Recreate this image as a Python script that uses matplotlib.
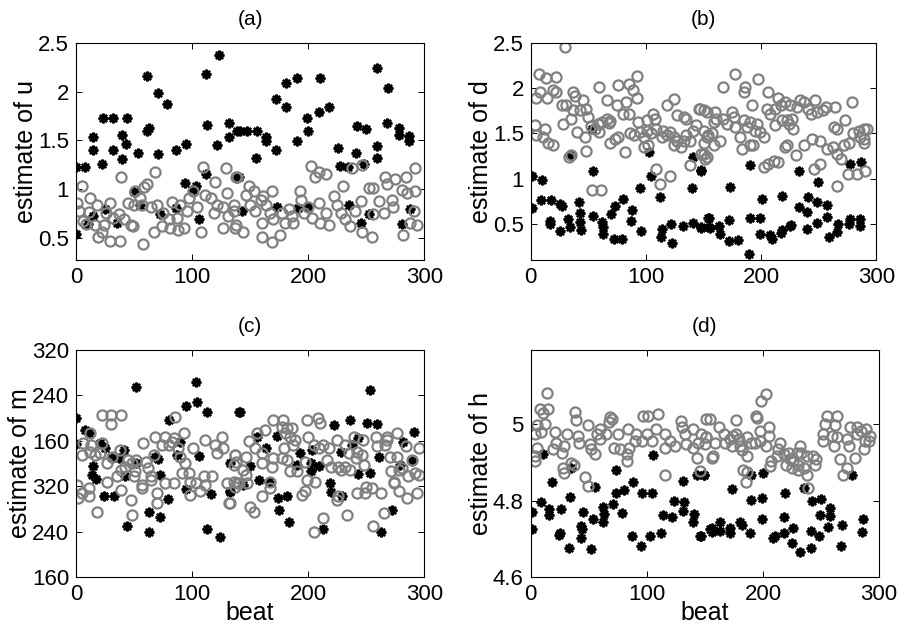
import matplotlib.pyplot as plt
import numpy as np

plt.rcParams['font.family'] = ['Liberation Sans', 'DejaVu Sans']

# ---------------- (a) estimate of u ----------------
a_star_x = [0, 8, 0, 15, 15, 22, 23, 32, 44, 32, 40, 43, 40, 53, 61, 61, 63, 71, 71, 78, 86, 95, 94, 103,
            112, 112, 123, 113, 121, 132, 132, 139, 139, 15, 10, 25, 35, 50, 55, 72, 86, 106, 101,
            141, 147, 156, 155, 164, 164, 172, 172, 181, 181, 190, 190, 199, 200, 209, 210, 218, 226,
            227, 234, 241, 242, 250, 248, 259, 259, 259, 269, 268, 278, 278, 287, 287,
            140, 143, 173, 191, 200, 235, 252, 245, 281, 288]
a_star_y = [1.23, 1.23, 0.54, 1.53, 1.40, 1.26, 1.73, 1.73, 1.73, 1.40, 1.56, 1.46, 1.31, 1.37, 2.16, 1.60,
            1.63, 1.99, 1.36, 1.87, 1.40, 1.46, 1.06, 1.03, 1.15, 2.18, 2.38, 1.66, 1.45, 1.68, 1.53,
            1.60, 1.11, 0.72, 0.64, 0.79, 0.65, 0.97, 0.84, 0.74, 0.80, 0.69, 0.99,
            1.60, 1.60, 1.60, 1.32, 1.53, 1.49, 1.93, 1.40, 2.09, 1.84, 2.14, 1.49, 1.73, 1.60, 1.79,
            2.14, 1.84, 1.42, 1.24, 1.23, 1.37, 1.65, 1.62, 1.26, 2.24, 1.44, 1.32, 2.04, 1.68, 1.63,
            1.56, 1.55, 1.49, 1.12, 0.77, 0.82, 0.80, 0.82, 0.84, 0.74, 0.65, 0.64, 0.79]
a_circ_x = [1, 5, 3, 6, 12, 11, 9, 18, 16, 22, 19, 24, 26, 29, 32, 29, 38, 39, 37, 41, 47, 49, 45, 51, 50,
            57, 59, 61, 58, 55, 65, 68, 67, 70, 74, 75, 80, 83, 81, 87, 90, 88, 93, 96, 97, 101, 104,
            109, 108, 111, 116, 119, 120, 121, 127, 129, 127, 130, 131, 136, 137, 139,
            138, 136, 138, 144, 146, 149, 150, 153, 154, 159, 161, 164, 167, 169, 160, 169, 176, 160,
            170, 177, 180, 183, 186, 187, 193, 194, 196, 200, 203, 202, 206, 209, 215, 209, 210, 215,
            218, 222, 225, 228, 230, 232, 236, 238, 246, 240, 245, 246, 252, 256, 255, 256, 261, 265,
            266, 268, 272, 273, 275, 281, 282, 284, 285, 291, 292, 292, 294, 288]
a_circ_y = [0.86, 1.03, 0.77, 0.67, 0.91, 0.76, 0.64, 0.84, 0.63, 0.56, 0.51, 0.63, 0.75, 0.86, 0.70, 0.47,
            0.47, 1.12, 0.74, 0.69, 0.63, 0.62, 0.86, 0.98, 0.84, 0.84, 1.02, 1.05, 0.43, 0.91, 0.81,
            1.17, 0.56, 0.84, 0.62, 0.75, 0.69, 0.87, 0.60, 0.70, 0.84, 0.58, 0.60, 0.77, 0.91, 0.98,
            0.81, 1.23, 0.56, 0.94, 0.91, 0.75, 1.07, 0.84, 0.81, 1.22, 0.60, 0.96, 0.72, 0.77, 0.60,
            1.12, 1.12, 0.84, 0.63, 0.56, 0.94, 1.03, 0.84, 0.98, 0.77, 0.89, 0.93, 0.84, 0.75, 0.98,
            0.51, 0.46, 0.53, 0.65, 0.69, 0.75, 0.65, 0.79, 0.72, 0.65, 0.98, 0.89, 0.75, 0.81, 0.70,
            1.24, 1.12, 1.17, 1.15, 0.86, 0.65, 0.75, 0.63, 0.93, 0.84, 0.75, 1.03, 0.69, 0.62, 1.22,
            1.25, 0.77, 0.88, 0.56, 1.01, 1.01, 0.51, 0.74, 0.88, 0.75, 1.12, 1.05, 0.89, 0.81, 1.10,
            0.99, 0.53, 1.12, 0.96, 0.77, 1.22, 0.98, 0.63, 0.65]

# ---------------- (b) estimate of d ----------------
b_circ_x = [30, 7, 13, 22, 8, 5, 14, 19, 22, 27, 31, 37, 38, 45, 43, 37, 48, 50, 59, 66, 76, 85, 89, 92, 83,
            75, 80, 85, 92, 28, 35, 4, 12, 5, 11, 15, 19, 40, 47, 33, 35, 48, 52, 58, 62, 66, 56, 59,
            68, 69, 69, 73, 76, 82, 86, 90, 95, 93, 101, 106, 108, 98, 101, 104, 98, 102, 109, 114,
            115, 118, 121, 124, 127, 124, 130, 133, 135, 138, 141, 109, 112, 121, 53, 61, 118, 124,
            127, 133, 135, 143, 146, 150, 148, 151, 138, 153,
            177, 167, 186, 185, 197, 206, 192, 215, 221, 212, 217, 205, 208, 225, 231, 234, 237, 241,
            247, 243, 248, 254, 256, 264, 279, 273, 263, 266, 147, 153, 160, 161, 167, 159, 170, 175,
            176, 177, 185, 188, 190, 196, 195, 199, 202, 212, 218, 222, 227, 228, 224, 150, 154, 157,
            164, 159, 150, 150, 153, 182, 183, 190, 193, 202, 206, 211, 215, 221, 222, 230, 237, 244,
            251, 257, 262, 266, 272, 269, 276, 246, 251, 266, 275, 283, 290, 280, 285, 289, 292, 289,
            289, 286]
b_circ_y = [2.46, 2.16, 2.11, 2.13, 1.96, 1.89, 1.89, 1.98, 1.96, 1.82, 1.82, 1.96, 1.92, 1.87, 1.76, 1.76,
            1.77, 1.68, 2.01, 1.87, 2.04, 2.05, 1.98, 2.14, 1.85, 1.81, 1.72, 1.72, 1.89, 1.61, 1.66,
            1.59, 1.55, 1.48, 1.46, 1.40, 1.37, 1.52, 1.46, 1.24, 1.26, 1.31, 1.58, 1.60, 1.63, 1.66,
            1.55, 1.52, 1.62, 1.64, 1.40, 1.44, 1.46, 1.29, 1.50, 1.48, 1.52, 1.63, 1.65, 1.72, 1.66,
            1.46, 1.53, 1.50, 1.35, 1.37, 1.55, 1.46, 1.53, 1.48, 1.52, 1.46, 1.42, 1.37, 1.35, 1.42,
            1.48, 1.42, 1.53, 1.11, 0.94, 1.03, 0.87, 0.87, 1.82, 1.88, 1.70, 1.68, 1.66, 1.59, 1.77,
            1.76, 1.27, 1.22, 1.15, 1.46,
            2.16, 2.01, 2.01, 1.96, 2.10, 1.96, 1.81, 1.89, 1.85, 1.77, 1.81, 1.77, 1.72, 1.81, 1.79,
            1.87, 1.85, 1.77, 1.87, 1.72, 1.74, 1.76, 1.79, 1.79, 1.85, 1.65, 1.57, 1.55, 1.77, 1.74,
            1.74, 1.66, 1.66, 1.63, 1.61, 1.74, 1.68, 1.57, 1.65, 1.57, 1.63, 1.61, 1.53, 1.52, 1.46,
            1.59, 1.65, 1.65, 1.66, 1.55, 1.61, 1.53, 1.48, 1.50, 1.42, 1.37, 1.39, 1.27, 1.24, 1.46,
            1.33, 1.37, 1.37, 1.13, 1.16, 1.20, 1.18, 1.35, 1.37, 1.26, 1.37, 1.44, 1.42, 1.33, 1.35,
            1.27, 1.37, 1.22, 1.39, 1.11, 1.16, 0.92, 1.05, 1.05, 1.09, 1.50, 1.53, 1.55, 1.55, 1.44,
            1.39, 1.46]
b_star_x = [1, 10, 34, 54, 53, 1, 9, 18, 25, 27, 42, 17, 17, 25, 32, 34, 43, 44, 43, 54, 62, 63, 63, 70, 73,
            80, 88, 87, 72, 79, 96, 95, 104, 112, 103, 122, 114, 113, 123, 132, 141, 148, 155, 141,
            148, 140, 154,
            148, 190, 233, 249, 173, 277, 287, 201, 218, 233, 240, 241, 248, 257, 155, 148, 156, 163,
            164, 172, 180, 172, 190, 199, 189, 199, 208, 209, 217, 218, 225, 226, 240, 248, 257, 259,
            266, 267, 276, 277, 286, 286]
b_star_y = [1.03, 0.99, 1.26, 1.08, 1.55, 0.68, 0.76, 0.76, 0.72, 0.70, 0.74, 0.53, 0.50, 0.42, 0.55, 0.46,
            0.52, 0.43, 0.62, 0.59, 0.52, 0.46, 0.39, 0.61, 0.70, 0.78, 0.65, 0.53, 0.33, 0.33, 0.42,
            0.90, 1.03, 0.80, 1.30, 0.50, 0.44, 0.36, 0.29, 0.48, 0.51, 0.46, 0.46, 1.24, 1.10, 0.90,
            0.57,
            1.09, 1.15, 1.09, 0.96, 0.91, 1.16, 1.18, 0.78, 0.81, 0.69, 0.63, 0.80, 0.74, 0.71, 0.57,
            0.45, 0.45, 0.48, 0.39, 0.31, 0.32, 0.54, 0.56, 0.56, 0.17, 0.39, 0.38, 0.33, 0.40, 0.43,
            0.48, 0.49, 0.44, 0.51, 0.58, 0.35, 0.41, 0.50, 0.50, 0.55, 0.55, 0.48]

# ---------------- (c) estimate of m ----------------
c_star_x = [0, 52, 103, 104, 95, 113, 140, 80, 8, 11, 0, 21, 25, 31, 37, 41, 15, 14, 17, 42, 52, 68, 71, 90,
            87, 72, 24, 33, 79, 95, 116, 133, 106, 133, 63, 72, 44, 63, 113, 124,
            141, 253, 222, 236, 251, 259, 291, 173, 156, 164, 243, 238, 228, 282, 193, 203, 202, 190,
            202, 209, 243, 253, 261, 279, 289, 150, 158, 166, 144, 133, 219, 220, 229, 174, 182, 175,
            183, 213, 263, 272]
c_star_y = [440, 495, 504, 469, 461, 450, 450, 437, 419, 413, 394, 396, 387, 369, 369, 384, 355, 340, 332,
            337, 360, 372, 367, 397, 375, 340, 302, 302, 297, 315, 306, 312, 373, 360, 275, 266, 249,
            240, 244, 230,
            450, 490, 428, 436, 432, 430, 416, 409, 406, 387, 404, 393, 381, 398, 378, 384, 360, 357,
            346, 355, 342, 344, 372, 357, 365, 355, 331, 328, 322, 310, 325, 309, 302, 299, 302, 278,
            256, 244, 240, 278]
c_circ_x = [22, 30, 39, 30, 1, 5, 2, 11, 11, 18, 6, 5, 12, 13, 16, 22, 21, 12, 27, 27, 35, 31, 38, 39, 42, 45,
            48, 50, 52, 51, 39, 47, 48, 57, 60, 62, 65, 68, 67, 58, 57, 65, 70, 70, 77, 80, 84, 83, 74,
            93, 88, 90, 85, 77, 84, 91, 94, 97, 98, 103, 98, 107, 110, 111, 117, 101, 111, 120, 126,
            127, 121, 132, 137, 136, 139, 130, 137,
            170, 178, 177, 182, 186, 184, 189, 187, 180, 163, 156, 149, 154, 160, 137, 146, 138, 144,
            146, 140, 136, 133, 147, 160, 169, 170, 177, 179, 182, 184, 190, 197, 200, 199, 208, 210,
            150, 153, 160, 167, 167, 195, 197, 199, 206, 205, 209, 213, 218, 216, 220, 225, 232, 235,
            232, 236, 241, 242, 239, 247, 248, 246, 226, 228, 226, 225, 213, 205, 233, 242, 249, 250,
            255, 263, 256, 265, 258, 259, 268, 268, 266, 276, 270, 276, 271, 278, 274, 274, 278, 285,
            294, 295, 292, 286, 281, 284, 295, 289]
c_circ_y = [445, 445, 445, 429, 322, 308, 299, 316, 302, 275, 396, 375, 381, 393, 375, 396, 378, 413, 360,
            328, 337, 372, 384, 349, 354, 366, 360, 337, 366, 346, 313, 296, 269, 322, 363, 352, 337,
            407, 375, 396, 316, 330, 308, 290, 407, 393, 404, 398, 393, 413, 387, 372, 441, 325, 325,
            343, 360, 343, 328, 325, 305, 311, 337, 322, 337, 387, 401, 393, 406, 387, 378, 290, 375,
            357, 325, 325, 319,
            436, 437, 425, 422, 422, 407, 401, 393, 413, 419, 413, 399, 387, 378, 375, 372, 363, 349,
            340, 325, 328, 290, 325, 360, 354, 369, 369, 387, 366, 346, 346, 363, 407, 437, 440, 431,
            284, 275, 302, 316, 328, 305, 311, 331, 328, 393, 387, 393, 387, 366, 354, 401, 393, 378,
            354, 349, 369, 381, 407, 401, 357, 375, 354, 349, 302, 296, 264, 240, 269, 308, 308, 319,
            316, 308, 249, 272, 407, 390, 401, 407, 393, 413, 372, 372, 346, 349, 328, 325, 311, 299,
            308, 340, 343, 337, 352, 390, 387, 366]
c_ticks = [160, 240, 320, 400, 480, 560]
c_ticklabels = ['160', '240', '320', '160', '240', '320']

# ---------------- (d) estimate of h ----------------
d_circ_x = [14, 8, 11, 15, 5, 12, 4, 9, 5, 4, 4, 21, 22, 19, 27, 29, 31, 28, 29, 37, 35, 38, 39, 41, 42, 49,
            51, 52, 55, 57, 60, 60, 65, 67, 70, 68, 47, 49, 72, 75, 77, 84, 83, 83, 85, 90, 91, 96, 97,
            101, 100, 104, 110, 108, 116, 120, 116, 124, 129, 130, 134, 133, 140, 140, 144, 143, 146,
            151, 151, 156, 116,
            203, 198, 154, 162, 177, 194, 195, 205, 147, 151, 150, 159, 166, 167, 172, 174, 173, 177,
            179, 180, 186, 190, 193, 197, 197, 205, 203, 182, 186, 157, 183, 186, 185, 215, 213, 212,
            207, 206, 218, 222, 223, 220, 226, 225, 230, 232, 229, 233, 238, 235, 230, 238, 243, 246,
            245, 239, 255, 264, 253, 262, 252, 259, 264, 252, 261, 266, 272, 269, 272, 274, 275, 281,
            281, 284, 289, 291, 288, 287, 279, 292]
d_circ_y = [5.083, 5.039, 5.030, 5.041, 4.997, 5.001, 4.975, 4.979, 4.939, 4.917, 4.903, 4.979, 4.952,
            4.935, 4.926, 4.943, 4.975, 4.886, 4.872, 4.894, 4.899, 5.032, 5.012, 4.970, 4.952, 4.997,
            4.948, 4.935, 4.921, 4.975, 4.961, 4.988, 4.975, 5.006, 5.015, 5.019, 4.863, 4.839, 4.939,
            4.975, 4.935, 4.988, 4.921, 4.903, 4.939, 4.957, 4.975, 4.957, 5.023, 5.023, 4.975, 4.957,
            5.028, 4.988, 4.975, 4.957, 4.939, 4.943, 5.010, 4.992, 4.948, 4.975, 4.939, 4.988, 4.952,
            4.912, 4.877, 5.015, 4.966, 4.912, 4.866,
            5.079, 5.062, 5.015, 4.992, 5.012, 5.021, 5.017, 4.992, 4.975, 4.966, 4.948, 4.952, 4.975,
            4.952, 4.961, 4.970, 4.943, 4.975, 4.961, 4.943, 4.966, 4.952, 4.952, 4.957, 4.983, 4.970,
            4.943, 4.934, 4.917, 4.917, 4.881, 4.875, 4.848, 4.952, 4.935, 4.917, 4.903, 4.890, 4.921,
            4.926, 4.908, 4.894, 4.903, 4.886, 4.894, 4.943, 4.926, 4.926, 4.917, 4.886, 4.881, 4.868,
            4.917, 4.908, 4.894, 4.832, 5.023, 5.023, 5.001, 4.997, 4.975, 4.970, 4.966, 4.957, 4.943,
            4.908, 4.886, 4.868, 4.961, 4.943, 4.992, 4.992, 4.975, 4.983, 4.988, 4.957, 4.957, 4.935,
            4.912, 4.970]
d_star_x = [11, 35, 18, 55, 73, 105, 131, 143, 149, 88, 80, 73, 96, 104, 34, 9, 1, 16, 16, 26, 45, 54, 62, 63,
            62, 71, 79, 1, 25, 24, 33, 43, 44, 43, 52, 87, 95, 103, 112, 114, 122, 123, 132, 131, 141,
            140, 147, 154,
            149, 190, 200, 173, 190, 199, 219, 235, 277, 242, 250, 249, 258, 258, 146, 156, 156, 163,
            163, 172, 172, 180, 182, 189, 199, 209, 210, 218, 218, 226, 225, 232, 241, 241, 248, 256,
            268, 267, 286, 285]
d_star_y = [4.923, 4.886, 4.850, 4.837, 4.881, 4.919, 4.852, 4.868, 4.868, 4.848, 4.828, 4.819, 4.819,
            4.819, 4.810, 4.797, 4.770, 4.779, 4.761, 4.779, 4.770, 4.752, 4.783, 4.766, 4.743, 4.792,
            4.768, 4.726, 4.715, 4.710, 4.677, 4.734, 4.726, 4.701, 4.674, 4.706, 4.681, 4.706, 4.715,
            4.761, 4.757, 4.798, 4.797, 4.774, 4.765, 4.743, 4.708, 4.726,
            4.868, 4.868, 4.872, 4.831, 4.801, 4.806, 4.819, 4.832, 4.868, 4.798, 4.804, 4.763, 4.781,
            4.759, 4.706, 4.727, 4.717, 4.743, 4.721, 4.727, 4.715, 4.745, 4.736, 4.715, 4.752, 4.701,
            4.708, 4.715, 4.757, 4.727, 4.690, 4.665, 4.721, 4.677, 4.706, 4.730, 4.736, 4.681, 4.752,
            4.717]

fig = plt.figure(figsize=(8.98, 6.25), dpi=100)
ax_a = fig.add_axes([0.0846, 0.584, 0.388, 0.347])
ax_b = fig.add_axes([0.591, 0.584, 0.385, 0.347])
ax_c = fig.add_axes([0.0846, 0.077, 0.388, 0.363])
ax_d = fig.add_axes([0.591, 0.077, 0.388, 0.363])

gray = '#808080'
panels = [
    (ax_a, a_star_x, a_star_y, a_circ_x, a_circ_y, '(a)', 'estimate of u', (0.27, 2.5)),
    (ax_b, b_star_x, b_star_y, b_circ_x, b_circ_y, '(b)', 'estimate of d', (0.1, 2.5)),
    (ax_c, c_star_x, c_star_y, c_circ_x, c_circ_y, '(c)', 'estimate of m', (160, 560)),
    (ax_d, d_star_x, d_star_y, d_circ_x, d_circ_y, '(d)', 'estimate of h', (4.6, 5.195)),
]
for ax, sx, sy, cx, cy, title, ylab, ylim in panels:
    ax.plot(sx, sy, linestyle='none', marker=(8, 2, 0), markersize=7,
            markeredgewidth=1.7, color='black')
    ax.plot(cx, cy, linestyle='none', marker='o', markersize=7.3, markerfacecolor='none',
            markeredgewidth=1.6, markeredgecolor=gray)
    ax.set_xlim(0, 300)
    ax.set_ylim(*ylim)
    ax.set_xticks([0, 100, 200, 300])
    ax.set_title(title, fontsize=15, pad=13)
    ax.set_ylabel(ylab, fontsize=18, labelpad=0)
    ax.tick_params(direction='in', top=True, right=True, labelsize=16, length=4, width=0.7, pad=5)
    for s in ax.spines.values():
        s.set_linewidth(0.8)

ax_a.set_yticks([0.5, 1, 1.5, 2, 2.5])
ax_a.set_yticklabels(['0.5', '1', '1.5', '2', '2.5'])
ax_b.set_yticks([0.5, 1, 1.5, 2, 2.5])
ax_b.set_yticklabels(['0.5', '1', '1.5', '2', '2.5'])
ax_c.set_yticks(c_ticks)
ax_c.set_yticklabels(c_ticklabels)
ax_d.set_yticks([4.6, 4.8, 5.0])
ax_d.set_yticklabels(['4.6', '4.8', '5'])
ax_c.set_xlabel('beat', fontsize=18, labelpad=-3)
ax_d.set_xlabel('beat', fontsize=18, labelpad=-3)

fig.savefig('out.png', dpi=100)
